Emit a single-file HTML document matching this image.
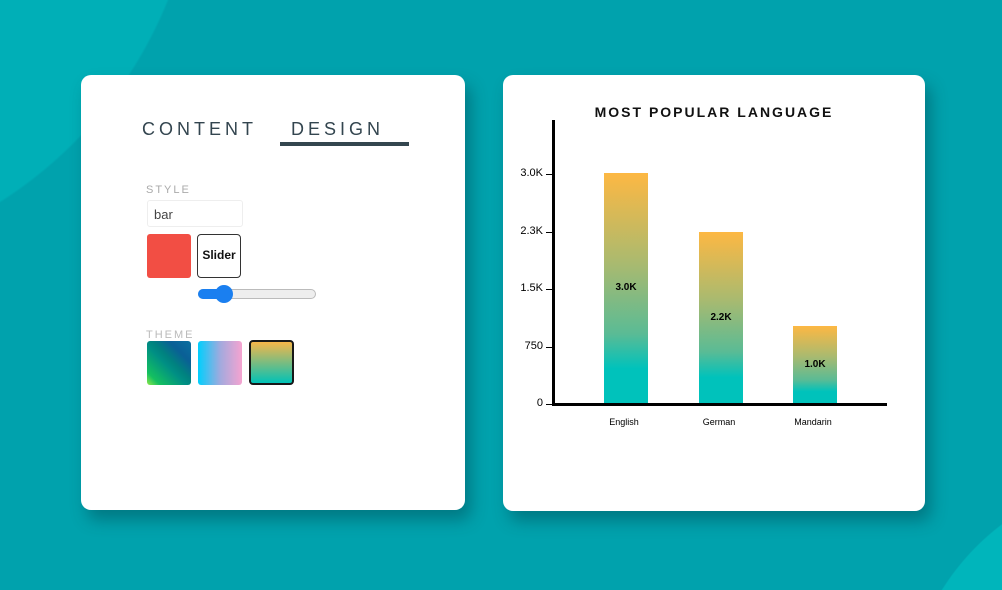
<!DOCTYPE html>
<html><head><meta charset="utf-8"><style>
*{margin:0;padding:0;box-sizing:border-box}
html,body{width:1002px;height:590px;overflow:hidden}
body{font-family:"Liberation Sans",sans-serif}
.wrap{position:relative;width:1002px;height:590px;overflow:hidden;
background:radial-gradient(circle 430px at -230px -160px,#00afb7 99.5%,transparent 100%),radial-gradient(circle 246px at 1150px 720px,#00b5bb 99.5%,transparent 100%),#00a2ad}
.card{position:absolute;background:#fff;border-radius:10px;box-shadow:6px 10px 16px rgba(0,60,70,.4)}
.abs{position:absolute}
</style></head><body>
<div class="wrap">
<div class="card" style="left:81px;top:75px;width:384px;height:435px">
  <div class="abs" style="left:61px;top:44px;font-size:18px;letter-spacing:4px;color:#33454f">CONTENT</div>
  <div class="abs" style="left:210px;top:44px;font-size:18px;letter-spacing:4px;color:#33454f">DESIGN</div>
  <div class="abs" style="left:199px;top:67px;width:129px;height:4px;background:#34464f"></div>
  <div class="abs" style="left:65px;top:109px;font-size:11px;letter-spacing:2px;color:#aaa">STYLE</div>
  <div class="abs" style="left:66px;top:125px;width:96px;height:27px;border:1px solid #eee;border-radius:3px;font-size:13px;color:#444;padding:6px 0 0 6px">bar</div>
  <div class="abs" style="left:66px;top:159px;width:44px;height:44px;background:#f24e44;border-radius:3px"></div>
  <div class="abs" style="left:116px;top:159px;width:44px;height:44px;border:1.5px solid #333;border-radius:4px;font-size:12px;font-weight:bold;text-align:center;line-height:41px;color:#111">Slider</div>
  <div class="abs" style="left:117px;top:214px;width:118px;height:10px;background:#eee;border:1px solid #bbb;border-radius:5px"></div>
  <div class="abs" style="left:117px;top:214px;width:28px;height:10px;background:#1a7ff0;border-radius:5px"></div>
  <div class="abs" style="left:134px;top:210px;width:18px;height:18px;background:#1a7ff0;border-radius:50%"></div>
  <div class="abs" style="left:65px;top:254px;font-size:11px;letter-spacing:2px;color:#bbb">THEME</div>
  <div class="abs" style="left:66px;top:266px;width:44px;height:44px;border-radius:3px;background:linear-gradient(45deg,#8de84a 0%,#14c060 15%,#008f84 45%,#00827f 55%,#0a5f96 75%,#0a70a0 100%)"></div>
  <div class="abs" style="left:117px;top:266px;width:44px;height:44px;border-radius:3px;background:linear-gradient(90deg,#00cffd,#a0aade,#f6a3d0)"></div>
  <div class="abs" style="left:168px;top:265px;width:45px;height:45px;border-radius:4px;border:2.5px solid #181818;background:linear-gradient(180deg,#f6b649,#00c2b7)"></div>
</div>
<div class="card" style="left:503px;top:75px;width:422px;height:436px">
  <div class="abs" style="left:0;width:422px;top:29px;text-align:center;font-size:14px;font-weight:bold;letter-spacing:2px;color:#111">MOST POPULAR LANGUAGE</div>
  <div class="abs" style="left:49px;top:45px;width:3px;height:286px;background:#000"></div>
  <div class="abs" style="left:49px;top:328px;width:335px;height:3px;background:#000"></div>
  <div class="abs" style="left:101px;top:98px;width:44px;height:230px;background:linear-gradient(180deg,#fdb843,#a8ba70 40%,#5abb95 70%,#00c2bb 85%)"></div>
  <div class="abs" style="left:196px;top:157px;width:44px;height:171px;background:linear-gradient(180deg,#fdb843,#a8ba70 40%,#5abb95 70%,#00c2bb 85%)"></div>
  <div class="abs" style="left:290px;top:251px;width:44px;height:77px;background:linear-gradient(180deg,#fdb843,#a8ba70 40%,#5abb95 70%,#00c2bb 85%)"></div>
  <div class="abs" style="left:101px;width:44px;top:207px;text-align:center;font-size:10px;font-weight:bold">3.0K</div>
  <div class="abs" style="left:196px;width:44px;top:237px;text-align:center;font-size:10px;font-weight:bold">2.2K</div>
  <div class="abs" style="left:290px;width:44px;top:284px;text-align:center;font-size:10px;font-weight:bold">1.0K</div>
  <div class="abs" style="left:0;width:40px;text-align:right;top:92px;font-size:11px">3.0K</div>
  <div class="abs" style="left:0;width:40px;text-align:right;top:150px;font-size:11px">2.3K</div>
  <div class="abs" style="left:0;width:40px;text-align:right;top:207px;font-size:11px">1.5K</div>
  <div class="abs" style="left:0;width:40px;text-align:right;top:265px;font-size:11px">750</div>
  <div class="abs" style="left:0;width:40px;text-align:right;top:322px;font-size:11px">0</div>
  <div class="abs" style="left:43px;top:99px;width:6px;height:1px;background:#000"></div>
  <div class="abs" style="left:43px;top:157px;width:6px;height:1px;background:#000"></div>
  <div class="abs" style="left:43px;top:214px;width:6px;height:1px;background:#000"></div>
  <div class="abs" style="left:43px;top:272px;width:6px;height:1px;background:#000"></div>
  <div class="abs" style="left:43px;top:329px;width:6px;height:1px;background:#000"></div>
  <div class="abs" style="left:81px;width:80px;top:342px;text-align:center;font-size:9px">English</div>
  <div class="abs" style="left:176px;width:80px;top:342px;text-align:center;font-size:9px">German</div>
  <div class="abs" style="left:270px;width:80px;top:342px;text-align:center;font-size:9px">Mandarin</div>
</div>
</div>
</body></html>
